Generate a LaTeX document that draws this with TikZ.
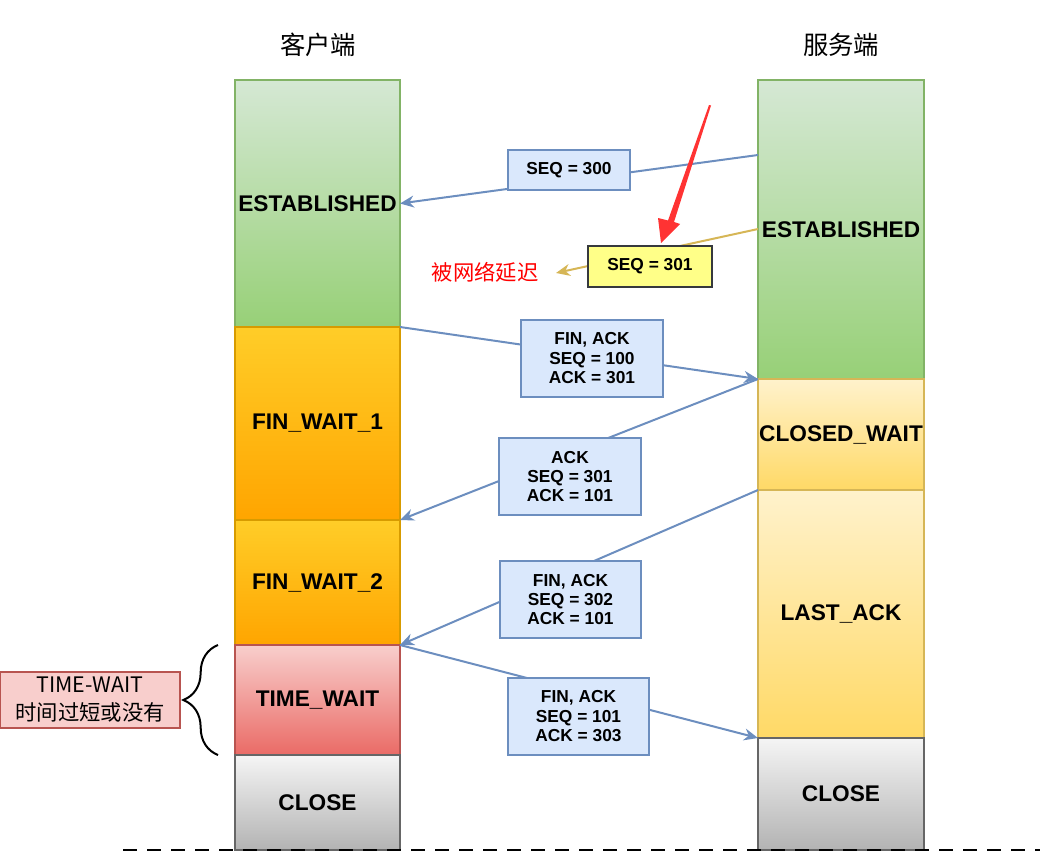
\documentclass[tikz,border=0pt]{standalone}
\usepackage{fontspec}
\setmainfont{Liberation Sans}
\newfontfamily\cjk{Noto Sans CJK SC}
\usetikzlibrary{arrows.meta,decorations.pathreplacing}
\definecolor{gTop}{HTML}{D5E8D4}
\definecolor{gBot}{HTML}{97D077}
\definecolor{gLine}{HTML}{82B366}
\definecolor{oTop}{HTML}{FFCD28}
\definecolor{oBot}{HTML}{FFA500}
\definecolor{oLine}{HTML}{D79B00}
\definecolor{yTop}{HTML}{FFF2CC}
\definecolor{yBot}{HTML}{FFD966}
\definecolor{yLine}{HTML}{D6B656}
\definecolor{rTop}{HTML}{F8CECC}
\definecolor{rBot}{HTML}{EA6B66}
\definecolor{rLine}{HTML}{B85450}
\definecolor{kTop}{HTML}{F5F5F5}
\definecolor{kBot}{HTML}{B3B3B3}
\definecolor{kLine}{HTML}{666666}
\definecolor{bFill}{HTML}{DAE8FC}
\definecolor{bLine}{HTML}{6C8EBF}
\definecolor{noteFill}{HTML}{FFFF88}
\definecolor{noteLine}{HTML}{36393D}
\definecolor{redA}{HTML}{FF3333}
\begin{document}
\begin{tikzpicture}[x=0.75pt,y=-0.75pt,
  stbox/.style={draw, line width=1.5pt, inner sep=0pt, outer sep=0pt, font=\bfseries\fontsize{17}{20}\selectfont},
  cst/.style={stbox, minimum width=123.75pt},
  sst/.style={stbox, minimum width=124.5pt},
  lab/.style={draw=bLine, fill=bFill, line width=1.5pt, inner sep=0pt, outer sep=0pt, align=center,
    minimum width=106.5pt, minimum height=57.75pt,
    font=\bfseries\fontsize{13}{14.6}\selectfont},
  msg/.style={draw=bLine, line width=1.5pt, -{Stealth[length=10.5pt,width=9pt]}},
  ttl/.style={font=\cjk\fontsize{19}{22}\selectfont}]
\useasboundingbox (0,0) rectangle (1062,856);

% titles
\node[ttl] (tc) at (318,45) {客户端};
\node[ttl] (ts) at (841,45) {服务端};

% client states
\node[cst, minimum height=185.25pt, draw=gLine, top color=gTop, bottom color=gBot] (cEst) at (317.5,203.5) {ESTABLISHED};
\node[cst, minimum height=144.75pt, draw=oLine, top color=oTop, bottom color=oBot] (cFW1) at (317.5,423.5) {FIN\_WAIT\_1};
\node[cst, minimum height=93.75pt, draw=oLine, top color=oTop, bottom color=oBot] (cFW2) at (317.5,582.5) {FIN\_WAIT\_2};
\node[cst, minimum height=82.5pt, draw=rLine, top color=rTop, bottom color=rBot] (cTW) at (317.5,700) {TIME\_WAIT};
\node[cst, minimum height=71.25pt, draw=kLine, top color=kTop, bottom color=kBot] (cCl) at (317.5,802.5) {CLOSE};

% server states
\node[sst, minimum height=224.25pt, draw=gLine, top color=gTop, bottom color=gBot] (sEst) at (841,229.5) {ESTABLISHED};
\node[sst, minimum height=83.25pt, draw=yLine, top color=yTop, bottom color=yBot] (sCW) at (841,434.5) {CLOSED\_WAIT};
\node[sst, minimum height=186pt, draw=yLine, top color=yTop, bottom color=yBot] (sLA) at (841,614) {LAST\_ACK};
\node[sst, minimum height=84pt, draw=kLine, top color=kTop, bottom color=kBot] (sCl) at (841,794) {CLOSE};

% dashed base line
\coordinate (dl) at (123,850);
\coordinate (dr) at (1040,850);
\draw[dashed, dash pattern=on 10.5pt off 7.5pt, line width=1.5pt] (dl) -- (dr);

% connectors
\coordinate (p1) at (758,155);
\draw[msg] (p1) -- (cEst.east);
\coordinate (p2) at (758,229);
\coordinate (p2e) at (556,273);
\draw[draw=yLine, line width=1.5pt, -{Stealth[length=10.5pt,width=9pt]}] (p2) -- (p2e);
\draw[msg] (cFW1.north east) -- (sEst.south west);
\draw[msg] (sCW.north west) -- (cFW1.south east);
\draw[msg] (sLA.north west) -- (cFW2.south east);
\draw[msg] (cTW.north east) -- (sCl.north west);

% labels
\node[lab, minimum width=91.5pt, minimum height=30pt] (l1) at (569,170) {SEQ = 300};
\node[draw=noteLine, fill=noteFill, line width=1.5pt, inner sep=0pt, font=\bfseries\fontsize{13}{14.6}\selectfont,
  minimum width=93pt, minimum height=30.75pt] (l2) at (650,266.5) {SEQ = 301};
\node[text=red, font=\cjk\fontsize{16}{19}\selectfont] (delay) at (485,272) {被网络延迟};
\node[lab] (l3) at (592,358.5) {FIN, ACK\\SEQ = 100\\ ACK = 301};
\node[lab] (l4) at (570,476.5) {ACK\\SEQ = 301\\ ACK = 101};
\node[lab, minimum width=105.75pt] (l5) at (570.5,599.5) {FIN, ACK\\SEQ = 302\\ ACK = 101};
\node[lab, minimum width=105.75pt] (l6) at (578.5,716.5) {FIN, ACK\\SEQ = 101\\ ACK = 303};

% red pointer arrow
\fill[redA] (709,105) -- (711,105.5) -- (674,222) -- (680,224) -- (661,243) -- (658,218) -- (668,220.5) -- cycle;

% TIME-WAIT note and brace
\coordinate (bb) at (218,755);
\coordinate (bt) at (218,645);
\draw[line width=1.5pt, decorate, decoration={brace, amplitude=26pt, aspect=0.5}] (bb) -- (bt);
\node[draw=rLine, fill=rTop, line width=1pt, inner sep=0pt, align=center,
  font=\cjk\fontsize{16}{21}\selectfont, minimum width=135pt, minimum height=42pt] (note) at (90,700) {TIME-WAIT\\时间过短或没有};
\end{tikzpicture}
\end{document}
